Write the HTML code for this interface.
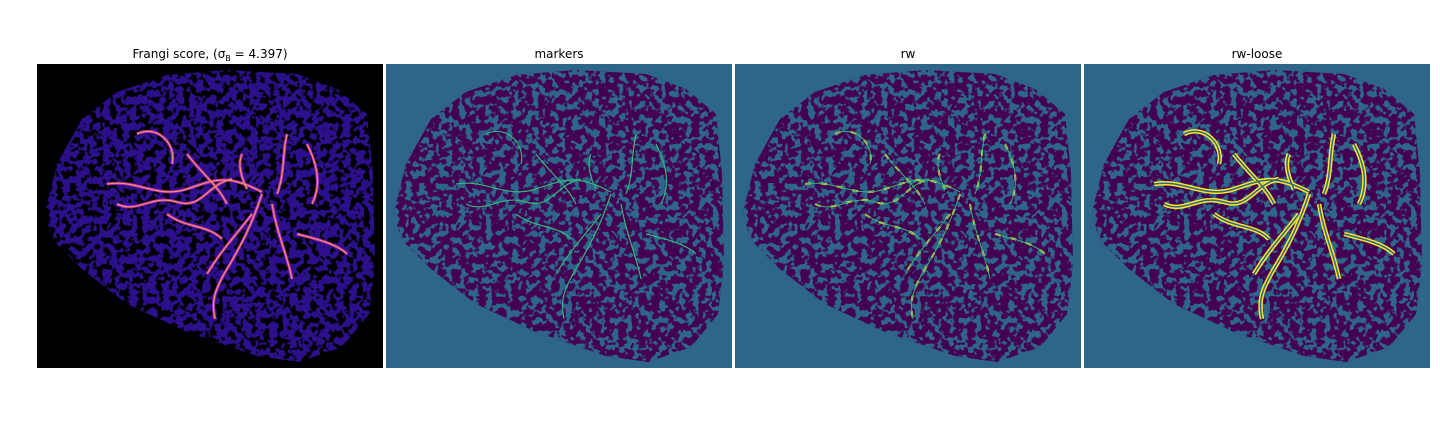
<!DOCTYPE html>
<html><head><meta charset="utf-8"><style>
html,body{margin:0;padding:0;background:#fff;width:1440px;height:432px;overflow:hidden}
svg{display:block}
text{font-family:"DejaVu Sans","Liberation Sans",sans-serif;font-size:12px;fill:#000}
</style></head><body>
<svg width="1440" height="432" viewBox="0 0 1440 432">
<defs>
<clipPath id="blob"><path d="M8,148 L20,100 L45,55 L80,28 L130,11 L190,6 L260,10 L300,25 L330,50 L336,110 L338,200 L332,250 L305,283 L262,298 L220,292 L150,268 L90,240 L45,205 L15,175 Z"/></clipPath>
<filter id="texA" x="0" y="0" width="100%" height="100%" color-interpolation-filters="sRGB"><feTurbulence type="fractalNoise" baseFrequency="0.15" numOctaves="2" seed="4"/><feColorMatrix type="matrix" values="0 0 0 0 0  0 0 0 0 0  0 0 0 0 0  14 0 0 0 -7.0"/></filter>
<filter id="texB" x="0" y="0" width="100%" height="100%" color-interpolation-filters="sRGB"><feTurbulence type="fractalNoise" baseFrequency="0.15" numOctaves="2" seed="4"/><feColorMatrix type="matrix" values="0 0 0 0 0.18  0 0 0 0 0.40  0 0 0 0 0.54  14 0 0 0 -7.0"/></filter>
<g id="vessels" fill="none">
<path d="M70,120 C100,115 120,135 150,125 S190,110 225,128"/>
<path d="M80,140 C100,150 115,130 140,138 S170,120 195,115"/>
<path d="M100,70 C120,60 140,80 135,100"/>
<path d="M150,90 C165,110 180,120 190,140"/>
<path d="M225,130 C215,160 205,180 190,205 S175,240 178,255"/>
<path d="M235,140 C240,170 250,190 255,215"/>
<path d="M215,150 C200,170 185,185 170,210"/>
<path d="M250,70 C245,90 248,110 240,130"/>
<path d="M270,80 C280,100 285,120 275,140"/>
<path d="M260,170 C280,175 300,180 310,190"/>
<path d="M205,90 C200,100 205,115 210,125"/>
<path d="M130,150 C150,165 170,160 185,175"/>
</g>
</defs>

<g transform="translate(37,64)">
<rect width="346" height="304" fill="#000"/>
<g clip-path="url(#blob)"><rect width="346" height="304" fill="#2c0f8a"/><rect width="346" height="304" filter="url(#texA)"/></g>
<use href="#vessels" stroke="#b52ab0" stroke-width="3"/>
<use href="#vessels" stroke="#f6a05a" stroke-width="1"/>
</g>
<text x="210" y="58" text-anchor="middle">Frangi score, (σ<tspan font-size="8" dy="3">B</tspan><tspan dy="-3"> = 4.397)</tspan></text>

<g transform="translate(386,64)">
<rect width="346" height="304" fill="#2e6689"/>
<g clip-path="url(#blob)"><rect width="346" height="304" fill="#440154"/><rect width="346" height="304" filter="url(#texB)"/></g>
<use href="#vessels" stroke="#35b779" stroke-width="1.2"/>
</g>
<text x="559" y="58" text-anchor="middle">markers</text>

<g transform="translate(735,64)">
<rect width="346" height="304" fill="#2e6689"/>
<g clip-path="url(#blob)"><rect width="346" height="304" fill="#440154"/><rect width="346" height="304" filter="url(#texB)"/></g>
<use href="#vessels" stroke="#fde725" stroke-width="2" stroke-dasharray="6 10"/>
<use href="#vessels" stroke="#35b779" stroke-width="1"/>
</g>
<text x="908" y="58" text-anchor="middle">rw</text>

<g transform="translate(1084,64)">
<rect width="346" height="304" fill="#2e6689"/>
<g clip-path="url(#blob)"><rect width="346" height="304" fill="#440154"/><rect width="346" height="304" filter="url(#texB)"/></g>
<use href="#vessels" stroke="#fde725" stroke-width="4.5"/>
<use href="#vessels" stroke="#2e6689" stroke-width="1.5"/>
</g>
<text x="1257" y="58" text-anchor="middle">rw-loose</text>
</svg>
</body></html>
